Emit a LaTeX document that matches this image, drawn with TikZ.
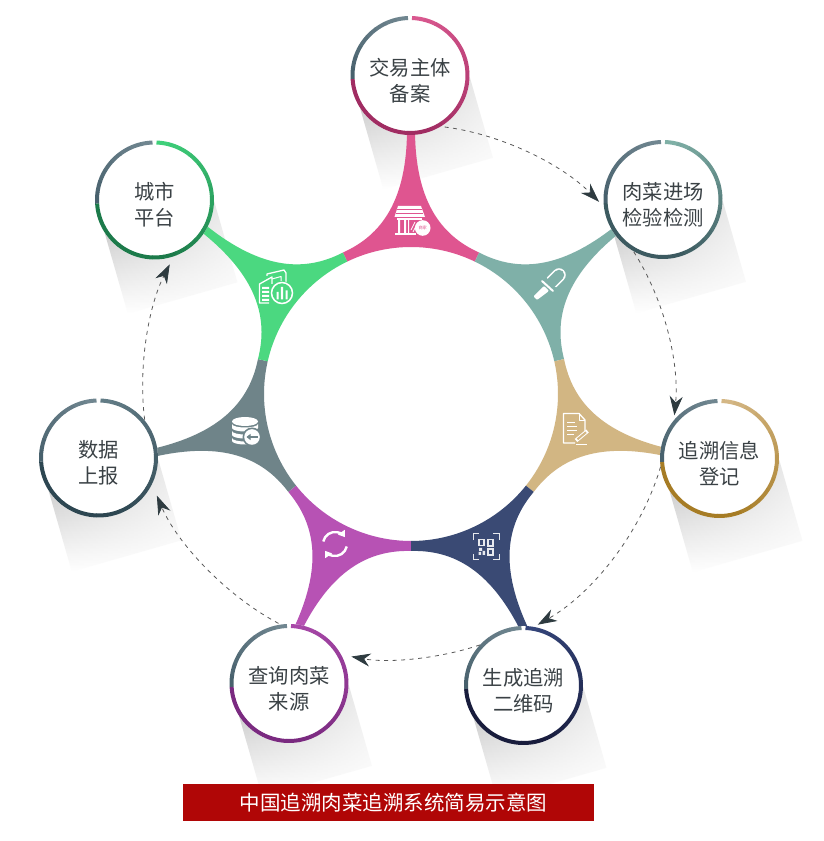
\documentclass[tikz,border=0pt]{standalone}
\usepackage{fontspec}
\usetikzlibrary{arrows.meta,calc,fadings}
\newfontfamily\cjk{Noto Sans CJK SC}
\definecolor{cpink}{HTML}{DF5590}
\definecolor{cteal}{HTML}{7FB0A8}
\definecolor{ctan}{HTML}{D2B683}
\definecolor{cnavy}{HTML}{3A4A74}
\definecolor{cmag}{HTML}{B752B4}
\definecolor{cgray}{HTML}{6F8489}
\definecolor{cgreen}{HTML}{4BD880}
\definecolor{txt}{HTML}{3A4145}
\definecolor{tipc}{HTML}{2E3B40}
\definecolor{banner}{HTML}{B00606}
\definecolor{ringA}{HTML}{48616D}
\definecolor{ringB}{HTML}{708690}
\definecolor{aA}{HTML}{D9588F}\definecolor{aB}{HTML}{A02C62}
\definecolor{bA}{HTML}{7FB0A6}\definecolor{bB}{HTML}{3C5A60}
\definecolor{cA}{HTML}{D4B785}\definecolor{cB}{HTML}{A67C25}
\definecolor{dA}{HTML}{34457A}\definecolor{dB}{HTML}{181C3C}
\definecolor{eA}{HTML}{A848A8}\definecolor{eB}{HTML}{7A2A80}
\definecolor{fA}{HTML}{627C86}\definecolor{fB}{HTML}{2D4651}
\definecolor{gA}{HTML}{3FD07A}\definecolor{gB}{HTML}{1C7A4A}
\tikzfading[name=sidefade,left color=transparent!0,right color=transparent!75]
\newcommand{\ringarcs}[3]{%
  \foreach \i in {0,...,7}{%
    \pgfmathsetmacro\a{92+\i*11.4}\pgfmathsetmacro\p{\i/7*100}%
    \draw[ringline,color={ringA!\p!ringB}] ([shift={(\a:57.5)}]#1.center) arc[start angle=\a,delta angle=11.9,radius=57.5];
  }%
  \foreach \i in {0,...,21}{%
    \pgfmathsetmacro\a{88-\i*12}\pgfmathsetmacro\p{min(100,\i/13*100)}%
    \draw[ringline,color={#3!\p!#2}] ([shift={(\a:57.5)}]#1.center) arc[start angle=\a,delta angle=-12.4,radius=57.5];
  }%
}
\tikzset{
  x=1pt,y=1pt,
  disc/.style={circle,fill=white,minimum size=119pt,inner sep=0pt,outer sep=0pt},
  caption/.style={align=center,text=txt,font=\cjk\fontsize{20.3}{26}\selectfont,inner sep=0pt},
  ringline/.style={line width=4pt,line cap=butt},
  flow/.style={draw=black!65,line width=.8pt,dash pattern=on 4pt off 4.5pt,looseness=.85,-{Stealth[length=19pt,width=13pt,inset=6pt,color=tipc]}},
  castshade/.style={top color=black!26,middle color=black!9,bottom color=white,draw=none,path fading=sidefade},
  iconline/.style={draw=white,line width=1.3pt,line join=round},
}
\begin{document}
\begin{tikzpicture}
\useasboundingbox (0,0) rectangle (823,841);
\fill[white] (0,0) rectangle (823,841);
\coordinate (O) at (411,447);
\coordinate (ca) at (410,765.5);
\coordinate (cb) at (663,641.5);
\coordinate (cc) at (719.5,382.5);
\coordinate (cd) at (523.5,155.5);
\coordinate (ce) at (289,157.5);
\coordinate (cf) at (98.5,383);
\coordinate (cg) at (154.5,641);
% cast shadows
\foreach \n in {ca,cb,cc,cd,ce,cf,cg}{
  \begin{scope}[shift={(\n)},rotate=16]
    \shade[castshade] (-57,-18) rectangle (57,-102);
  \end{scope}
}
% seven sectors
\foreach \k/\c in {0/cpink,1/cteal,2/ctan,3/cnavy,4/cmag,5/cgray,6/cgreen}{
  \begin{scope}[shift={(O)},rotate={-\k*360/7}]
    \fill[\c] (-4,265) .. controls (-4,194) and (-29,159) .. (115.71:157)
      -- (115.71:147) arc[start angle=115.71,end angle=64.29,radius=147]
      -- (64.29:157) .. controls (29,159) and (4,194) .. (4,265) -- cycle;
  \end{scope}
}
% discs
\node[disc] (a) at (ca) {};
\node[disc] (b) at (cb) {};
\node[disc] (c) at (cc) {};
\node[disc] (d) at (cd) {};
\node[disc] (e) at (ce) {};
\node[disc] (f) at (cf) {};
\node[disc] (g) at (cg) {};
\ringarcs{a}{aA}{aB}
\ringarcs{b}{bA}{bB}
\ringarcs{c}{cA}{cB}
\ringarcs{d}{dA}{dB}
\ringarcs{e}{eA}{eB}
\ringarcs{f}{fA}{fB}
\ringarcs{g}{gA}{gB}
% captions
\node[caption] (ta) at ($(a)+(0,-5)$) {交易主体\\备案};
\node[caption] (tb) at ($(b)+(0,-5)$) {肉菜进场\\检验检测};
\node[caption] (tc) at ($(c)+(0,-5)$) {追溯信息\\登记};
\node[caption] (td) at ($(d)+(0,-5)$) {生成追溯\\二维码};
\node[caption] (te) at ($(e)+(0,-5)$) {查询肉菜\\来源};
\node[caption] (tf) at ($(f)+(0,-5)$) {数据\\上报};
\node[caption] (tg) at ($(g)+(0,-5)$) {城市\\平台};
% connectors
\draw[flow,shorten <=4pt,shorten >=7pt] (a.-59) to[bend left=19] (b.187);
\draw[flow,shorten <=1pt,shorten >=5pt] (b.-120) to[bend left=19] (c.140);
\draw[flow,shorten >=4.5pt] (c.188) to[bend left=22] (d.80.6);
\draw[flow,shorten >=10.5pt] (d.137) to[bend left=14.5] (e.29.5);
\draw[flow,shorten <=2.5pt,shorten >=12.5pt] (e.98) to[bend left=19.5] (f.-26.4);
\draw[flow,shorten <=1pt,shorten >=9pt] (f.39) to[bend left=17] (g.-71);
% banner
\node[fill=banner,minimum width=411pt,minimum height=37pt,inner sep=0pt,text=white,font=\cjk\fontsize{20.5}{24}\selectfont] (cap) at (388.5,38.5) {\hspace*{10pt}中国追溯肉菜追溯系统简易示意图};
% icons, in image coordinates
\begin{scope}[shift={(0,841)},yscale=-1]
  % store
  \fill[white] (398,206) -- (421,206) -- (425,217) -- (394.5,217) -- cycle;
  \draw[cpink,line width=.6pt] (397,209.5) -- (422,209.5) (396,213) -- (423,213);
  \fill[white] (397,218.5) rectangle (422,220);
  \fill[white] (398,220) rectangle (400,233) (404,220) rectangle (406,233) (408,220) rectangle (409,233);
  \draw[white,line width=.8pt] (411,230) -- (415,222) (413,232) -- (417,224);
  \fill[white] (395,233) rectangle (416,235);
  \fill[white] (422.7,228) circle (7.8);
  \node[text=cpink,font=\cjk\fontsize{4.2}{4}\selectfont,inner sep=0pt] (shop) at (422.7,228) {商家};
  % dropper
  \draw[white,line width=13.5pt,line cap=round] (552,282) -- (559,275);
  \draw[cteal,line width=10.5pt,line cap=round] (552,282) -- (559,275);
  \fill[cteal] (543,274) -- (560,292) -- (548,296) -- (538,285) -- cycle;
  \draw[white,line width=2pt,line cap=round] (542,281) -- (553,291);
  \fill[white,rounded corners=1pt] (544,286) -- (549,291) -- (537,300) -- (533.5,296.5) -- cycle;
  % document
  \draw[iconline] (585,432) -- (585,420) -- (579,413.5) -- (563.5,413.5) -- (563.5,443) -- (575,443);
  \draw[iconline,line width=.8pt] (579,413.5) -- (579,420) -- (585,420);
  \draw[white,line width=1pt] (567,423) -- (575,423) (567,427) -- (577,427) (567,431) -- (577,431) (567,435) -- (574,435);
  \draw[white,line width=4pt] (576,440.5) -- (587.5,431);
  \draw[ctan,line width=2pt] (577.5,439.3) -- (586,432.2);
  \draw[white,line width=.9pt] (576,444.5) -- (587,444.5);
  % QR code
  \draw[white!88!cnavy,line width=1pt] (473,540) -- (473,534) -- (479,534) (493,534) -- (499,534) -- (499,540) (499,554) -- (499,560) -- (493,560) (479,560) -- (473,560) -- (473,554);
  \draw[white!88!cnavy,line width=1.2pt] (479,539.5) rectangle (484,545.5) (488,539.5) rectangle (493,546) (488,549) rectangle (493,555);
  \fill[white!88!cnavy] (479,548) rectangle (482,551) (482.5,551) rectangle (485,555) (478.5,552) rectangle (481,555);
  % refresh
  \begin{scope}[shift={(335,544)},yscale=-1]
    \draw[white,line width=2.4pt,-{Triangle[length=6pt,width=8pt]}] (168:12) arc[start angle=168,end angle=35,radius=12];
    \draw[white,line width=2.4pt,-{Triangle[length=6pt,width=8pt]}] (-12:12) arc[start angle=-12,end angle=-145,radius=12];
  \end{scope}
  % database
  \fill[white] (245,421.5) ellipse (13 and 4.5);
  \fill[white] (232,424) -- (232,428) arc[start angle=180,end angle=0,x radius=13,y radius=3.5] -- (258,424) arc[start angle=0,end angle=180,x radius=13,y radius=3.5];
  \fill[white] (232,431) -- (232,435) arc[start angle=180,end angle=0,x radius=13,y radius=3.5] -- (258,431) arc[start angle=0,end angle=180,x radius=13,y radius=3.5];
  \fill[white] (232,438) -- (232,441) arc[start angle=180,end angle=0,x radius=13,y radius=3.5] -- (258,438) arc[start angle=0,end angle=180,x radius=13,y radius=3.5];
  \fill[cgray] (252,437) circle (9.5);
  \fill[white] (252,437) circle (7.8);
  \draw[cgray,line width=1.7pt,-{Triangle[length=4pt,width=6pt]}] (257.5,437) -- (246.5,437);
  % city
  \draw[iconline] (269,303) -- (259.5,303) -- (259.5,284) -- (272,277) -- (272,284);
  \fill[white] (262,287) rectangle (269,289) (262,291) rectangle (269,293) (262,295) rectangle (269,297) (262,299) rectangle (269,301);
  \draw[iconline] (267,276) -- (267,274) -- (284,270) -- (286,273) -- (286,283);
  \draw[iconline,line width=1pt] (272,279) -- (281,276.5) -- (281,282);
  \fill[cgreen] (282,293) circle (12);
  \draw[white,line width=1.5pt] (282,293) circle (10.5);
  \fill[white] (276.5,292) rectangle (278.5,299.5) (280.8,287) rectangle (283.2,299.5) (285.5,290.5) rectangle (287.5,299.5);
\end{scope}
\end{tikzpicture}
\end{document}
